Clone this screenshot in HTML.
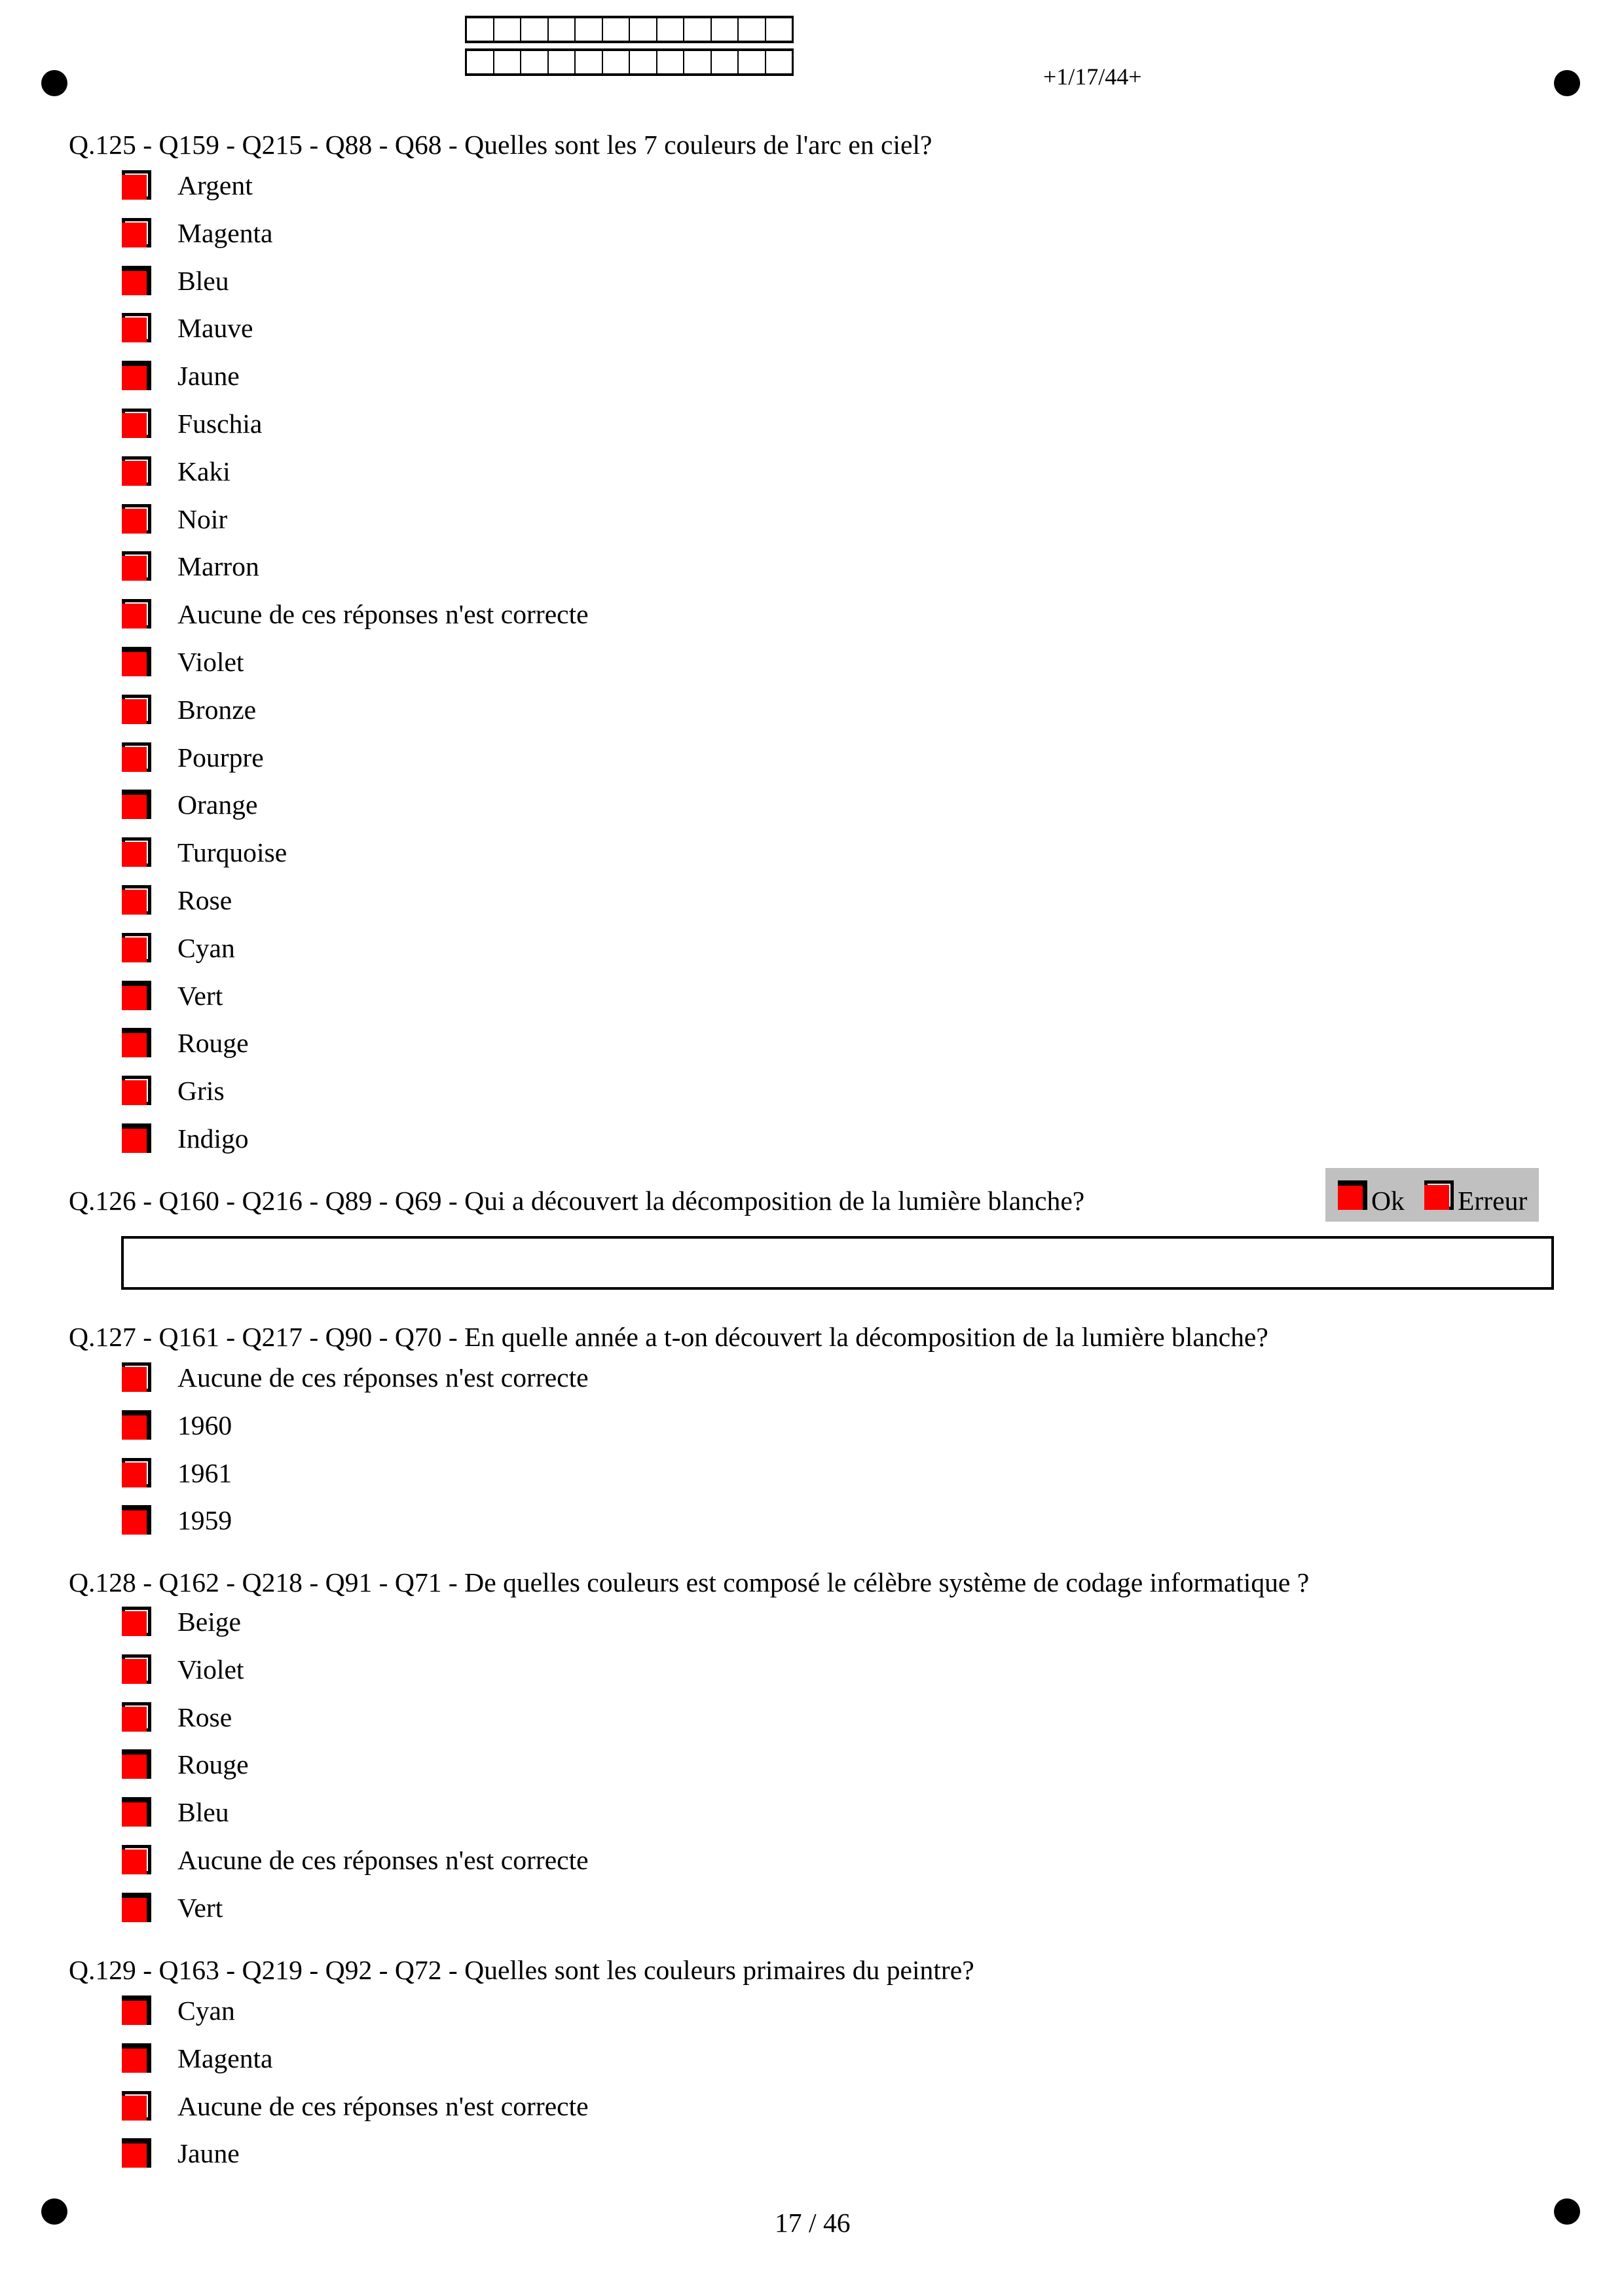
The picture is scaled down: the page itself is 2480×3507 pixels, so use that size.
<!DOCTYPE html>
<html><head><meta charset="utf-8"><style>
body{margin:0;width:2480px;height:3507px;background:#fff;position:relative;overflow:hidden;font-family:"Liberation Serif",serif;color:#000}
.t{position:absolute;font-size:41.6px;line-height:50px;white-space:nowrap}
.dot{position:absolute;width:40px;height:40px;border-radius:50%;background:#000}
.cb{position:absolute;width:45px;height:45px;background:#000}
.cb i{position:absolute;left:5px;top:5px;width:35px;height:35px;background:#fff}
.cb b{position:absolute;left:0;bottom:0;width:38px;height:38px;background:#f00}
.cb.d i{display:none}
.cb.d b{height:37px}
.grid{position:absolute;left:710px;width:502px;height:42px;border:3px solid #000;border-top-width:4px;border-bottom-width:4px;box-sizing:border-box;display:flex}
.grid span{flex:1;border-right:2px solid #000}
.grid span:last-child{border-right:none}
</style></head><body>
<div class="grid" style="top:24px"><span></span><span></span><span></span><span></span><span></span><span></span><span></span><span></span><span></span><span></span><span></span><span></span></div>
<div class="grid" style="top:74px"><span></span><span></span><span></span><span></span><span></span><span></span><span></span><span></span><span></span><span></span><span></span><span></span></div>
<div class="dot" style="left:63px;top:107px"></div>
<div class="dot" style="left:2373px;top:107px"></div>
<div class="dot" style="left:63px;top:3358px"></div>
<div class="dot" style="left:2373px;top:3358px"></div>
<div class="t" style="left:1593px;top:92px;font-size:36px">+1/17/44+</div>

<div class="t" style="left:105px;top:196px">Q.125 - Q159 - Q215 - Q88 - Q68 - Quelles sont les 7 couleurs de l'arc en ciel?</div>

<div class="t" style="left:105px;top:1809px">Q.126 - Q160 - Q216 - Q89 - Q69 - Qui a découvert la décomposition de la lumière blanche?</div>
<div style="position:absolute;left:2024px;top:1784px;width:326px;height:82px;background:#c0c0c0"></div>
<div class="cb d" style="left:2043px;top:1803px"><i></i><b></b></div>
<div class="t" style="left:2094px;top:1809px">Ok</div>
<div class="cb" style="left:2175px;top:1803px"><i></i><b></b></div>
<div class="t" style="left:2226px;top:1809px">Erreur</div>
<div style="position:absolute;left:185px;top:1888px;width:2188px;height:82px;border:4px solid #000;box-sizing:border-box"></div>

<div class="t" style="left:105px;top:2017px">Q.127 - Q161 - Q217 - Q90 - Q70 - En quelle année a t-on découvert la décomposition de la lumière blanche?</div>
<div class="t" style="left:105px;top:2392px">Q.128 - Q162 - Q218 - Q91 - Q71 - De quelles couleurs est composé le célèbre système de codage informatique ?</div>
<div class="t" style="left:105px;top:2984px">Q.129 - Q163 - Q219 - Q92 - Q72 - Quelles sont les couleurs primaires du peintre?</div>
<div class="t" style="left:1183px;top:3370px">17 / 46</div>
<div id="opts"></div>
<script>
var groups=[
[282,[["Argent",0],["Magenta",0],["Bleu",1],["Mauve",0],["Jaune",1],["Fuschia",0],["Kaki",0],["Noir",0],["Marron",0],["Aucune de ces réponses n'est correcte",0],["Violet",1],["Bronze",0],["Pourpre",0],["Orange",1],["Turquoise",0],["Rose",0],["Cyan",0],["Vert",1],["Rouge",1],["Gris",0],["Indigo",1]]],
[2103,[["Aucune de ces réponses n'est correcte",0],["1960",1],["1961",0],["1959",1]]],
[2476,[["Beige",0],["Violet",0],["Rose",0],["Rouge",1],["Bleu",1],["Aucune de ces réponses n'est correcte",0],["Vert",1]]],
[3070,[["Cyan",1],["Magenta",1],["Aucune de ces réponses n'est correcte",0],["Jaune",1]]]];
var h="";
groups.forEach(function(g){var y=g[0];g[1].forEach(function(o,i){var c=y+i*72.8;
h+='<div class="cb'+(o[1]?' d':'')+'" style="left:186px;top:'+(c-22)+'px"><i></i><b></b></div>';
h+='<div class="t" style="left:271px;top:'+(c-24)+'px">'+o[0]+'</div>';});});
document.getElementById("opts").innerHTML=h;
</script>
</body></html>
